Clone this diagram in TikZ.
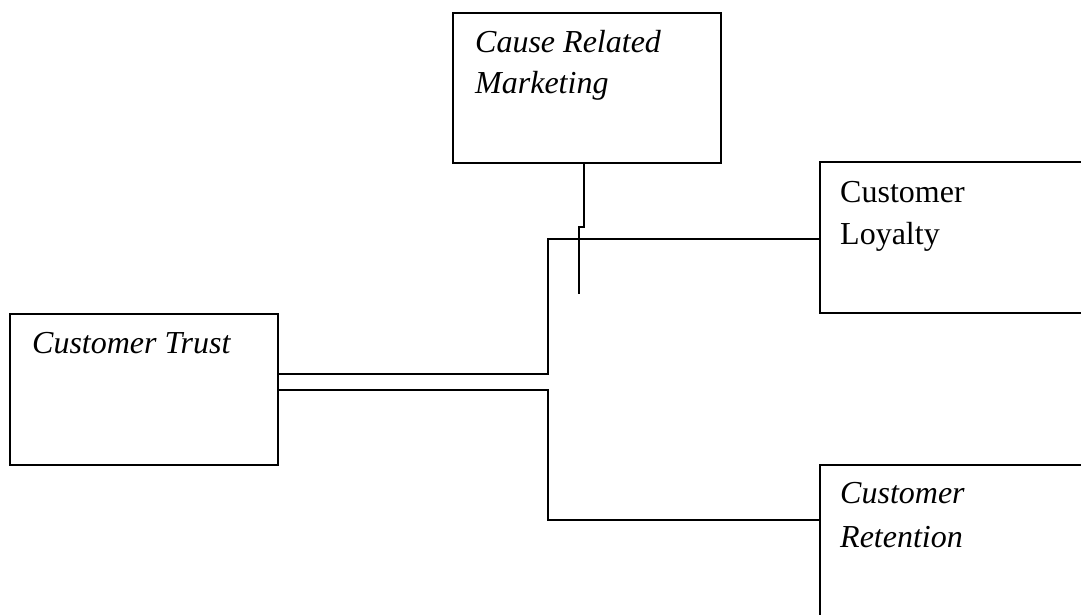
\documentclass[tikz,border=0pt]{standalone}
\usepackage{fontspec}
\setmainfont{Liberation Serif}
\begin{document}
\begin{tikzpicture}[x=1pt,y=-1pt,
  box/.style={draw=black,line width=2pt,rectangle,inner sep=0pt},
  lbl/.style={anchor=base west,inner sep=0pt,font=\fontsize{32}{36}\selectfont},
  ilbl/.style={lbl,font=\fontsize{32}{36}\selectfont\itshape},
  link/.style={draw=black,line width=2pt}]
\useasboundingbox (0,0) rectangle (1081,614);
\clip (0,0) rectangle (1081,614);
\fill[white] (0,0) rectangle (1081,614);

% boxes
\node[box,minimum width=268pt,minimum height=151pt] (trust) at (144,389) {};
\node[box,minimum width=268pt,minimum height=150pt] (crm) at (587,88) {};
\node[box,minimum width=272pt,minimum height=151pt] (loyal) at (956,237.5) {};
\node[box,minimum width=272pt,minimum height=160pt] (retain) at (956,545) {};

% labels
\node[ilbl] (trustT) at (32,353) {Customer Trust};
\node[ilbl] (crmT1) at (475,52) {Cause Related};
\node[ilbl] (crmT2) at (475,93) {Marketing};
\node[lbl] (loyalT1) at (840,202) {Customer};
\node[lbl] (loyalT2) at (840,244) {Loyalty};
\node[ilbl] (retainT1) at (840,503) {Customer};
\node[ilbl] (retainT2) at (840,547) {Retention};

% connectors
\coordinate (jog) at (579,294);
\draw[link] (trust.east |- 0,374) -- (548,374) -- (548,239) -- (loyal.west |- 0,239);
\draw[link] (trust.east |- 0,390) -- (548,390) -- (548,520) -- (retain.west |- 0,520);
\draw[link] (crm.south -| 584,0) -- (584,227) -- (579,227) -- (jog);
\end{tikzpicture}
\end{document}
